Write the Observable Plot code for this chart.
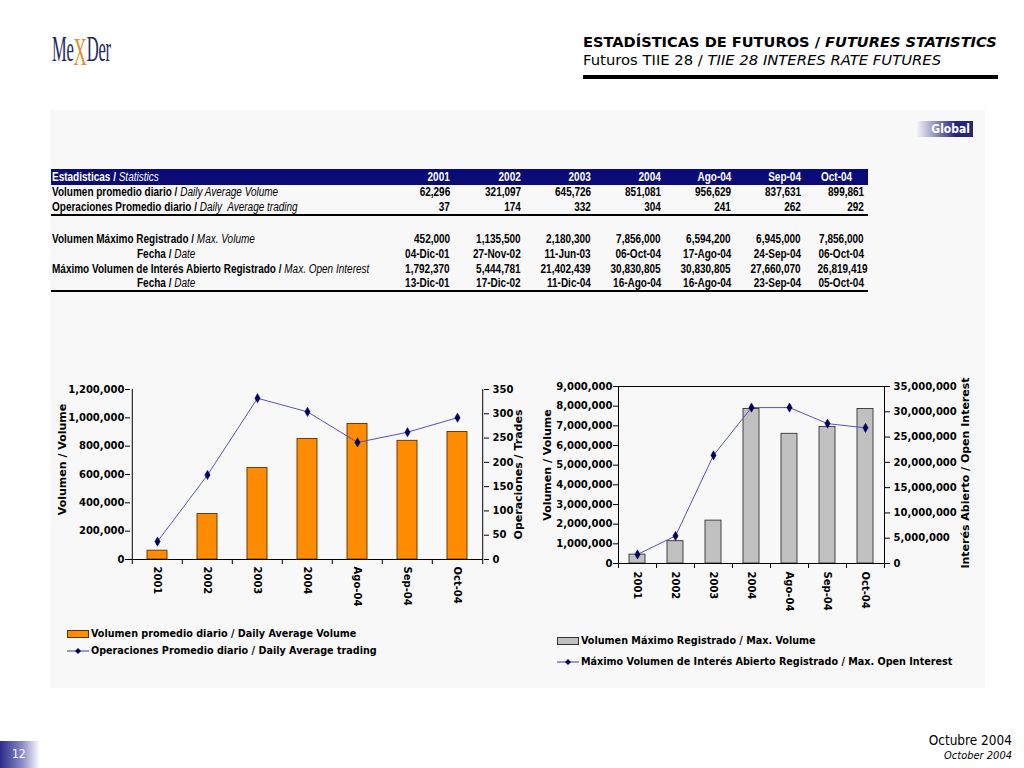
<!DOCTYPE html>
<html>
<head>
<meta charset="utf-8">
<script src="https://cdn.jsdelivr.net/npm/d3@7"></script>
<script src="https://cdn.jsdelivr.net/npm/@observablehq/plot@0.6"></script>
<style>
  html, body { margin: 0; padding: 0; background: #fff; }
  #page { position: relative; width: 1024px; height: 768px; overflow: hidden; background: #fff; font-family: "DejaVu Sans", Verdana, sans-serif; }
  .abs { position: absolute; }
  #panel { left: 50px; top: 110px; width: 935px; height: 578px; background: #f8f8f8; }
  #logo { left: 52px; top: 24px; font-family: "Liberation Serif", serif; font-size: 36px; color: #1c2b5e; transform: scaleX(0.46); transform-origin: left top; white-space: nowrap; letter-spacing: -0.5px; }
  #logo .x { color: #d9962e; font-size: 40px; position: relative; top: 4px; }
  #title1 { left: 583px; top: 33px; font-size: 14.6px; font-weight: bold; white-space: nowrap; color: #000; }
  #title2 { left: 583px; top: 51px; font-size: 14.8px; white-space: nowrap; color: #000; }
  #titleRule { left: 583px; top: 75px; width: 415px; height: 4px; background: #000; }
  #global { left: 915px; top: 121px; width: 58px; height: 16px; background: linear-gradient(to right, #ffffff, #25257a 70%); color: #fff; font-weight: bold; font-size: 12px; text-align: right; line-height: 16px; padding-right: 3px; box-sizing: border-box; font-family: "DejaVu Sans Condensed", "DejaVu Sans", sans-serif; }
  #stats { position: absolute; left: 51px; top: 169px; border-collapse: collapse; table-layout: fixed; width: 817px; font-family: "Liberation Sans", Arial, sans-serif; font-size: 12.5px; color: #000; }
  #stats td { padding: 0 4px 0 0; text-align: right; white-space: nowrap; font-weight: bold; overflow: visible; line-height: 13px; }
  #stats td.lab { text-align: left; padding-left: 1px; }
  #stats td.fecha { text-align: left; padding-left: 86px; }
  #stats i { font-weight: normal; }
  #stats .s { display: inline-block; transform: scaleX(0.8); }
  #stats .l { transform-origin: left center; }
  #stats .r { transform-origin: right center; }
  #stats tr.head td { background: #0b0b78; color: #fff; height: 16px; }
  #stats tr.head td.octh { text-align: left; padding-left: 16px; }
  .legend { font-family: "DejaVu Sans Condensed", "DejaVu Sans", sans-serif; font-weight: bold; font-size: 10.7px; color: #000; white-space: nowrap; }
  .legend .item { position: absolute; display: flex; align-items: center; }
  .sw { display: inline-block; width: 20px; height: 6px; border: 1px solid #333; margin-right: 2px; }
  #oct1 { right: 12px; top: 732px; font-size: 13.5px; font-family: "DejaVu Sans Condensed", "DejaVu Sans", sans-serif; color: #000; }
  #oct2 { right: 12px; top: 749px; font-size: 11px; font-style: italic; font-family: "DejaVu Sans Condensed", "DejaVu Sans", sans-serif; color: #000; }
  #pageno { left: 0; top: 741px; width: 40px; height: 27px; background: linear-gradient(to right, #2b2b8c, #8a8ac4 55%, #ffffff); color: #fff; font-size: 12px; line-height: 27px; padding-left: 12px; box-sizing: border-box; font-family: "DejaVu Sans Condensed", sans-serif; }
</style>
</head>
<body>
<div id="page">
  <div id="panel" class="abs"></div>
  <div id="logo" class="abs">Me<span class="x">X</span>Der</div>
  <div id="title1" class="abs">ESTADÍSTICAS DE FUTUROS / <i>FUTURES STATISTICS</i></div>
  <div id="title2" class="abs">Futuros TIIE 28 / <i>TIIE 28 INTERES RATE FUTURES</i></div>
  <div id="titleRule" class="abs"></div>
  <div id="global" class="abs">Global</div>
  <table id="stats"></table>
  <div id="chart1" class="abs" style="left:55px; top:375px;"></div>
  <div id="chart2" class="abs" style="left:535px; top:372px;"></div>
  <div id="legend1" class="legend"></div>
  <div id="legend2" class="legend"></div>
  <div id="oct1" class="abs">Octubre 2004</div>
  <div id="oct2" class="abs">October 2004</div>
  <div id="pageno" class="abs">12</div>
</div>
<script>
// ---------- DATA ----------
const categories = ["2001", "2002", "2003", "2004", "Ago-04", "Sep-04", "Oct-04"];
const headerLabels = ["2001", "2002", "2003", "2004", "Ago-04", "Sep-04", "Oct-04"];
const dailyAvgVolume = [62296, 321097, 645726, 851081, 956629, 837631, 899861];
const dailyAvgTrading = [37, 174, 332, 304, 241, 262, 292];
const maxVolume = [452000, 1135500, 2180300, 7856000, 6594200, 6945000, 7856000];
const maxVolumeDate = ["04-Dic-01", "27-Nov-02", "11-Jun-03", "06-Oct-04", "17-Ago-04", "24-Sep-04", "06-Oct-04"];
const maxOpenInterest = [1792370, 5444781, 21402439, 30830805, 30830805, 27660070, 26819419];
const maxOpenInterestDate = ["13-Dic-01", "17-Dic-02", "11-Dic-04", "16-Ago-04", "16-Ago-04", "23-Sep-04", "05-Oct-04"];
const volTicks1 = [0, 200000, 400000, 600000, 800000, 1000000, 1200000];
const tradeTicks1 = [0, 50, 100, 150, 200, 250, 300, 350];
const volTicks2 = [0, 1000000, 2000000, 3000000, 4000000, 5000000, 6000000, 7000000, 8000000, 9000000];
const oiTicks2 = [0, 5000000, 10000000, 15000000, 20000000, 25000000, 30000000, 35000000];

const fmt = d3.format(",");

// ---------- TABLE ----------
(function buildTable() {
  const t = document.getElementById("stats");
  const widths = [334, 69, 71, 70, 70, 70, 70, 63];
  const L = s => `<span class="s l">${s}</span>`;
  const R = s => `<span class="s r">${s}</span>`;
  let html = "<colgroup>" + widths.map(w => `<col style="width:${w}px">`).join("") + "</colgroup>";
  html += `<tr class="head"><td class="lab">${L("Estadisticas / <i>Statistics</i>")}</td>` +
    headerLabels.map((h, i) => i === headerLabels.length - 1 ? `<td class="octh">${L(h)}</td>` : `<td>${R(h)}</td>`).join("") + "</tr>";
  const row = (label, vals, cls, h, border) => {
    const b = border ? "border-bottom:2px solid #000;" : "";
    return `<tr><td class="${cls}" style="height:${h}px;${b}">${L(label)}</td>` +
      vals.map(v => `<td style="height:${h}px;${b}">${R(v)}</td>`).join("") + "</tr>";
  };
  html += row("Volumen promedio diario / <i>Daily Average Volume</i>", dailyAvgVolume.map(fmt), "lab", 15, false);
  html += row("Operaciones Promedio diario / <i>Daily&nbsp; Average trading</i>", dailyAvgTrading.map(fmt), "lab", 14, true);
  html += `<tr><td colspan="8" style="height:16px"></td></tr>`;
  html += row("Volumen Máximo Registrado / <i>Max. Volume</i>", maxVolume.map(fmt), "lab", 15, false);
  html += row("Fecha / <i>Date</i>", maxVolumeDate, "fecha", 15, false);
  html += row("Máximo Volumen de Interés Abierto Registrado / <i>Max. Open Interest</i>", maxOpenInterest.map(fmt), "lab", 14, false);
  html += row("Fecha / <i>Date</i>", maxOpenInterestDate, "fecha", 14, true);
  t.innerHTML = html;
})();

// ---------- CHARTS ----------
const n = categories.length;
const rows1 = categories.map((c, i) => ({cat: c, vol: dailyAvgVolume[i], trades: dailyAvgTrading[i]}));
const rows2 = categories.map((c, i) => ({cat: c, vol: maxVolume[i], oi: maxOpenInterest[i]}));

function dualChart(o) {
  const step = (o.width - o.marginLeft - o.marginRight) / n;
  const k = o.yMax / o.y2Max;
  const tickStyle = {stroke: "#000", strokeWidth: 1};
  return Plot.plot({
    width: o.width, height: o.height,
    marginLeft: o.marginLeft, marginRight: o.marginRight, marginTop: o.marginTop, marginBottom: o.marginBottom,
    style: {background: "transparent", fontFamily: "DejaVu Sans, sans-serif", fontSize: "10px", fontWeight: "bold", color: "#000", overflow: "visible"},
    x: {domain: categories, paddingInner: o.pad, paddingOuter: o.pad / 2, axis: null},
    y: {domain: [0, o.yMax], axis: null},
    marks: [
      Plot.barY(o.rows, {x: "cat", y: o.barKey, fill: o.barFill, stroke: o.barStroke, strokeWidth: 0.9}),
      Plot.ruleY([0], tickStyle),
      o.topLine ? Plot.ruleY([o.yMax], tickStyle) : null,
      Plot.ruleX([categories[0]], {dx: -step / 2, ...tickStyle}),
      Plot.ruleX([categories[n - 1]], {dx: step / 2, ...tickStyle}),
      Plot.ruleX(categories, {x: d => d, y1: 0, y2: 0, insetBottom: -5, dx: -step / 2, ...tickStyle}),
      Plot.ruleX([categories[n - 1]], {x: d => d, y1: 0, y2: 0, insetBottom: -5, dx: step / 2, ...tickStyle}),
      Plot.axisY(o.yTicks, {anchor: "left", label: null, tickSize: 5, tickPadding: 1, tickFormat: fmt}),
      Plot.axisY(o.y2Ticks.map(v => v * k), {anchor: "right", label: null, tickSize: 5, tickPadding: 4, tickFormat: v => fmt(Math.round(v / k))}),
      Plot.axisX({label: null, tickSize: 0, tickRotate: 90, tickPadding: o.xLabelPad, fontSize: 10}),
      Plot.line(o.rows, {x: "cat", y: d => d[o.lineKey] * k, stroke: "#5555b5", strokeWidth: 1}),
      Plot.dot(o.rows, {x: "cat", y: d => d[o.lineKey] * k, symbol: "diamond", r: 2.8, fill: "#000060", stroke: "#000060", strokeWidth: 0.5}),
      Plot.text([o.leftTitle], {frameAnchor: "left", textAnchor: "middle", dx: o.leftTitleDx, dy: o.leftTitleDy, rotate: -90, fontSize: 11, fontWeight: "bold"}),
      Plot.text([o.rightTitle], {frameAnchor: "right", textAnchor: "middle", dx: o.rightTitleDx, dy: o.rightTitleDy, rotate: -90, fontSize: 11, fontWeight: "bold"})
    ]
  });
}

const c1 = dualChart({
  rows: rows1, width: 485, height: 240, marginLeft: 75, marginRight: 57, marginTop: 14, marginBottom: 56,
  pad: 0.6, yMax: 1200000, y2Max: 350, yTicks: volTicks1, y2Ticks: tradeTicks1,
  barKey: "vol", barFill: "#ff8c00", barStroke: "#5a3000", lineKey: "trades", topLine: false, xLabelPad: 7,
  leftTitle: "Volumen / Volume", leftTitleDx: -68, leftTitleDy: -15,
  rightTitle: "Operaciones / Trades", rightTitleDx: 35, rightTitleDy: 0
});
document.getElementById("chart1").appendChild(c1);

const c2 = dualChart({
  rows: rows2, width: 455, height: 248, marginLeft: 83, marginRight: 106, marginTop: 14, marginBottom: 57,
  pad: 0.58, yMax: 9000000, y2Max: 35000000, yTicks: volTicks2, y2Ticks: oiTicks2,
  barKey: "vol", barFill: "#c0c0c0", barStroke: "#333", lineKey: "oi", topLine: true, xLabelPad: 8,
  leftTitle: "Volumen / Volume", leftTitleDx: -71, leftTitleDy: -10,
  rightTitle: "Interés Abierto / Open Interest", rightTitleDx: 81, rightTitleDy: -2
});
document.getElementById("chart2").appendChild(c2);

// ---------- LEGENDS ----------
const lineIcon = `<svg width="22" height="8" style="margin-right:2px"><line x1="0" y1="4" x2="22" y2="4" stroke="#3a3aa0" stroke-width="1"/><path d="M11,1 L14,4 L11,7 L8,4 Z" fill="#000060"/></svg>`;
document.getElementById("legend1").innerHTML =
  `<div class="item" style="left:67px; top:627px;"><span class="sw" style="background:#ff8c00;border-color:#5a3000"></span>Volumen promedio diario / Daily Average Volume</div>` +
  `<div class="item" style="left:67px; top:644px;">${lineIcon}Operaciones Promedio diario / Daily Average trading</div>`;
document.getElementById("legend2").innerHTML =
  `<div class="item" style="left:557px; top:634px;"><span class="sw" style="background:#c0c0c0"></span>Volumen Máximo Registrado / Max. Volume</div>` +
  `<div class="item" style="left:557px; top:655px;">${lineIcon}Máximo Volumen de Interés Abierto Registrado / Max. Open Interest</div>`;
</script>
</body>
</html>
